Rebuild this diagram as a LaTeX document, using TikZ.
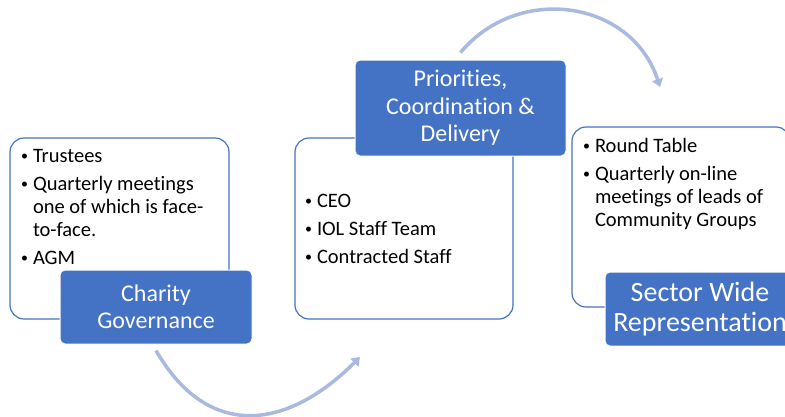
\documentclass[tikz,border=0pt]{standalone}
\usepackage{fontspec}
\setmainfont[Ligatures=NoCommon]{Carlito}
\usetikzlibrary{arrows.meta}
\definecolor{smartblue}{HTML}{4472C4}
\definecolor{arcblue}{HTML}{A9B9E0}
\newcommand{\bul}[1]{\par\hangindent=12pt\hangafter=1\noindent\makebox[12pt][l]{\raisebox{1.8pt}{\fontsize{14}{14}\selectfont\textbullet}}#1}

\begin{document}
\begin{tikzpicture}[x=1pt, y=1pt,
  head/.style={draw=white, line width=1pt, fill=smartblue, text=white, rounded corners=5pt, align=center, inner sep=0pt},
  listbox/.style={draw=smartblue, line width=1.2pt, fill=white, rounded corners=14pt, inner sep=11pt, font=\fontsize{20.5}{23}\selectfont},
  cycle arrow/.style={draw=arcblue, line width=3.5pt, -{Triangle[length=8pt,width=11pt]}}]
\useasboundingbox (0,0) rectangle (785,-416);
\clip (0,0) rectangle (785,-416);

% the three lists
\node[listbox] (l1) at (119.5,-228.5) {\parbox[c][159pt][t]{197pt}{\raggedright\setlength{\parskip}{5pt}%
  \bul{Trustees}
  \bul{Quarterly meetings\newline one of which is face-\newline to-face.}
  \bul{AGM}}};
\node[listbox, inner sep=10pt] (l2) at (404,-228.5) {\parbox[c][161pt][c]{198pt}{\raggedright\setlength{\parskip}{5pt}%
  \bul{CEO}
  \bul{IOL Staff Team}
  \bul{Contracted Staff}}};
\node[listbox] (l3) at (681,-217) {\parbox[c][158pt][t]{196pt}{\raggedright\setlength{\parskip}{5pt}%
  \bul{Round Table}
  \bul{Quarterly on-line\newline meetings of leads of\newline Community Groups}}};

% the three headings
\node[head, minimum width=192pt, minimum height=74pt, font=\fontsize{24}{27}\selectfont] (1) at (156,-307) {Charity\\Governance};
\node[head, minimum width=211pt, minimum height=96pt, font=\fontsize{24}{27.5}\selectfont] (2) at (460.5,-108) {Priorities,\\Coordination \&\\Delivery};
\node[head, minimum width=190pt, minimum height=74pt, font=\fontsize{28}{30}\selectfont] (3) at (700,-309) {Sector Wide\\Representation};

% cycle arrows
\coordinate (a1) at (360,-357);
\coordinate (a2) at (660,-87);
\draw[cycle arrow] ([yshift=-6pt]1.south) to[out=-60, in=-135, looseness=1.3] (a1);
\draw[cycle arrow] ([yshift=7pt]2.north) to[out=50, in=108, looseness=1.15] (a2);
\end{tikzpicture}
\end{document}
